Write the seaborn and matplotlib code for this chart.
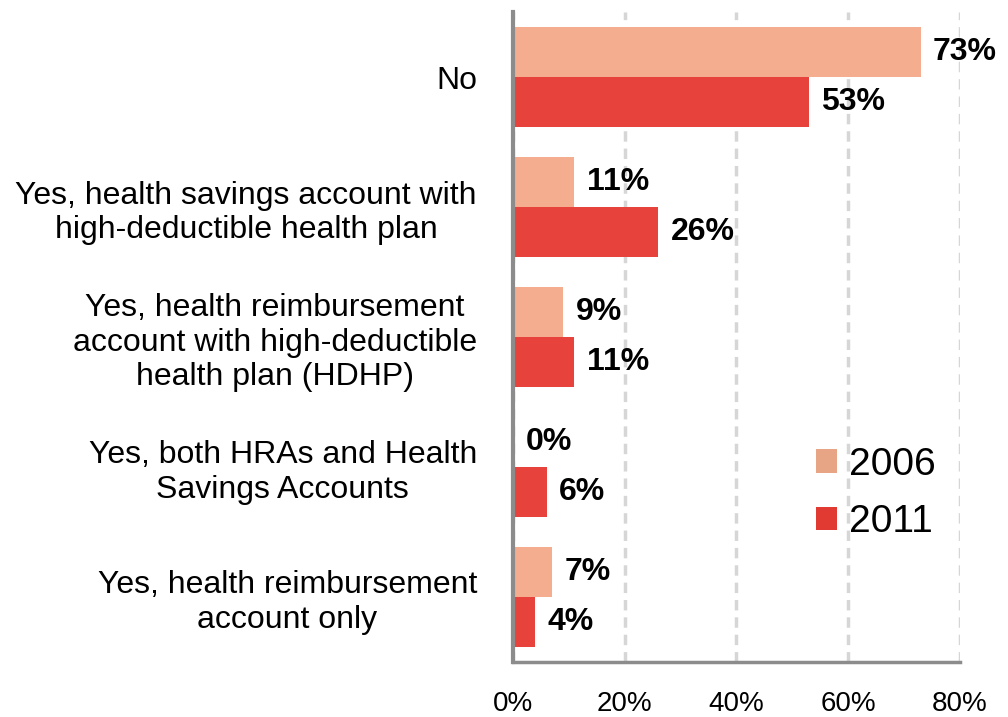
import matplotlib
matplotlib.use("Agg")
import matplotlib.pyplot as plt
import seaborn as sns
import pandas as pd
from matplotlib.patches import Patch

categories = [
    "No",
    "Yes, health savings account with\nhigh-deductible health plan",
    "Yes, health reimbursement\naccount with high-deductible\nhealth plan (HDHP)",
    "Yes, both HRAs and Health\nSavings Accounts",
    "Yes, health reimbursement\naccount only",
]
years = ["2006", "2011"]
values_2006 = [73, 11, 9, 0, 7]
values_2011 = [53, 26, 11, 6, 4]
x_ticks = [0, 20, 40, 60, 80]
x_tick_labels = ["0%", "20%", "40%", "60%", "80%"]

bar_colors = {"2006": "#F4AD8E", "2011": "#E8423C"}
legend_colors = {"2006": "#E8A585", "2011": "#E03A33"}

df = pd.DataFrame({
    "category": categories * 2,
    "year": [years[0]] * len(categories) + [years[1]] * len(categories),
    "value": values_2006 + values_2011,
})

sns.set_style("white")
plt.rcParams["font.family"] = ["Liberation Sans", "DejaVu Sans"]
plt.rcParams["text.color"] = "black"
plt.rcParams["xtick.color"] = "black"
plt.rcParams["ytick.color"] = "black"

fig = plt.figure(figsize=(10.08, 7.17), dpi=100)
ax = fig.add_axes([0.509, 0.077, 0.443, 0.906])

sns.barplot(data=df, x="value", y="category", hue="year", orient="h",
            palette=bar_colors, width=0.77, ax=ax, legend=False,
            edgecolor="none", saturation=1)

for container in ax.containers:
    ax.bar_label(container, labels=[f"{v:g}%" for v in container.datavalues],
                 padding=9, fontsize=23, fontweight="bold", color="black")

ax.set_xlim(0, 80)
ax.set_ylim(len(categories) - 0.5, -0.5)
ax.set_xticks(x_ticks)
ax.set_xticklabels(x_tick_labels, fontsize=20)
ax.tick_params(axis="x", length=0, pad=21, labelcolor="black")

ax.set_yticks(range(len(categories)))
ax.set_yticklabels(categories, fontsize=23, ha="right", multialignment="center")
ax.tick_params(axis="y", which="major", length=0, pad=26, labelcolor="black")
ax.set_yticks([i + 0.5 for i in range(-1, len(categories))], minor=True)
ax.tick_params(axis="y", which="minor", length=7, width=1.5, color="#888888")

ax.set_xlabel("")
ax.set_ylabel("")

ax.grid(axis="x", linestyle=(0, (3, 2)), color="#D6D6D6", linewidth=2.5)
ax.set_axisbelow(True)

for side in ["top", "right"]:
    ax.spines[side].set_visible(False)
ax.spines["left"].set_color("#8C8C8C")
ax.spines["left"].set_linewidth(3)
ax.spines["bottom"].set_color("#8C8C8C")
ax.spines["bottom"].set_linewidth(2.5)

handles = [Patch(facecolor=legend_colors[y], edgecolor="none", label=y) for y in years]
ax.legend(handles=handles, loc="upper left", bbox_to_anchor=(0.6, 0.385),
          frameon=False, fontsize=28, handlelength=0.55, handleheight=0.55,
          handletextpad=0.3, labelspacing=0.55, labelcolor="black")

fig.savefig("out.png", dpi=100)
